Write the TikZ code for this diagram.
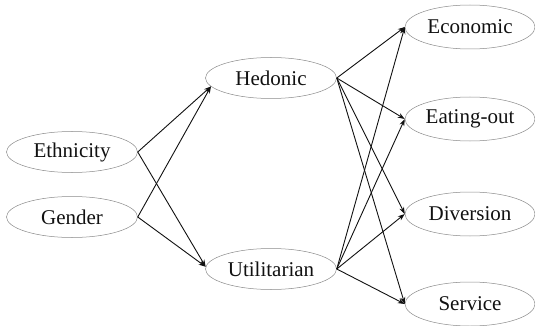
\documentclass[tikz,border=0pt]{standalone}
\usepackage{fontspec}
\setmainfont{Liberation Serif}
\usetikzlibrary{
  arrows.meta,
  shapes.geometric
}
\definecolor{Ink}{HTML}{111111}
\definecolor{RimInk}{HTML}{8A8A8A}
\newcommand{\diagramnodefont}{\rmfamily\fontsize{21}{24}\selectfont}
\tikzset{
  % Global typography and reusable ellipse geometry.
  every node/.style={font=\diagramnodefont, text=Ink},
  factor node/.style={
    ellipse,
    draw=RimInk,
    line width=0.5pt,
    minimum width=131pt,
    minimum height=41pt,
    inner sep=0pt
  },
  outcome node/.style={
    factor node,
    minimum width=130pt,
    minimum height=44pt
  },
  path flow/.style={
    -{Stealth[length=7pt,width=5pt]},
    draw=Ink,
    line width=0.9pt
  }
}
\begin{document}
\begin{tikzpicture}[x=1pt,y=-1pt]
\useasboundingbox (0,0) rectangle (535,326);

% ---------------------------------------------------------------------------
% Antecedents and value dimensions
% ---------------------------------------------------------------------------
\node[factor node] (ethnicity) at (72,152) {Ethnicity};
\node[factor node] (gender) at (72,217) {Gender};

\node[factor node] (hedonic) at (271,78) {Hedonic};
\node[factor node] (utilitarian) at (271,269) {Utilitarian};

% ---------------------------------------------------------------------------
% Outcomes
% ---------------------------------------------------------------------------
\foreach \y/\name/\body in {
  27/economic/{Economic},
  119/eatingOut/{Eating-out},
  214/diversion/{Diversion},
  304/service/{Service}
}{
  \node[outcome node] (\name) at (470,\y) {\body};
}

% ---------------------------------------------------------------------------
% Paths
% ---------------------------------------------------------------------------
\foreach \src in {ethnicity,gender}{
  \draw[path flow] (\src.east) -- (hedonic.188);
  \draw[path flow] (\src.east) -- (utilitarian.178);
}

\foreach \src in {hedonic,utilitarian}{
  \foreach \dst in {economic,eatingOut,diversion,service}{
    \draw[path flow] (\src.east) -- (\dst.west);
  }
}

\end{tikzpicture}
\end{document}
